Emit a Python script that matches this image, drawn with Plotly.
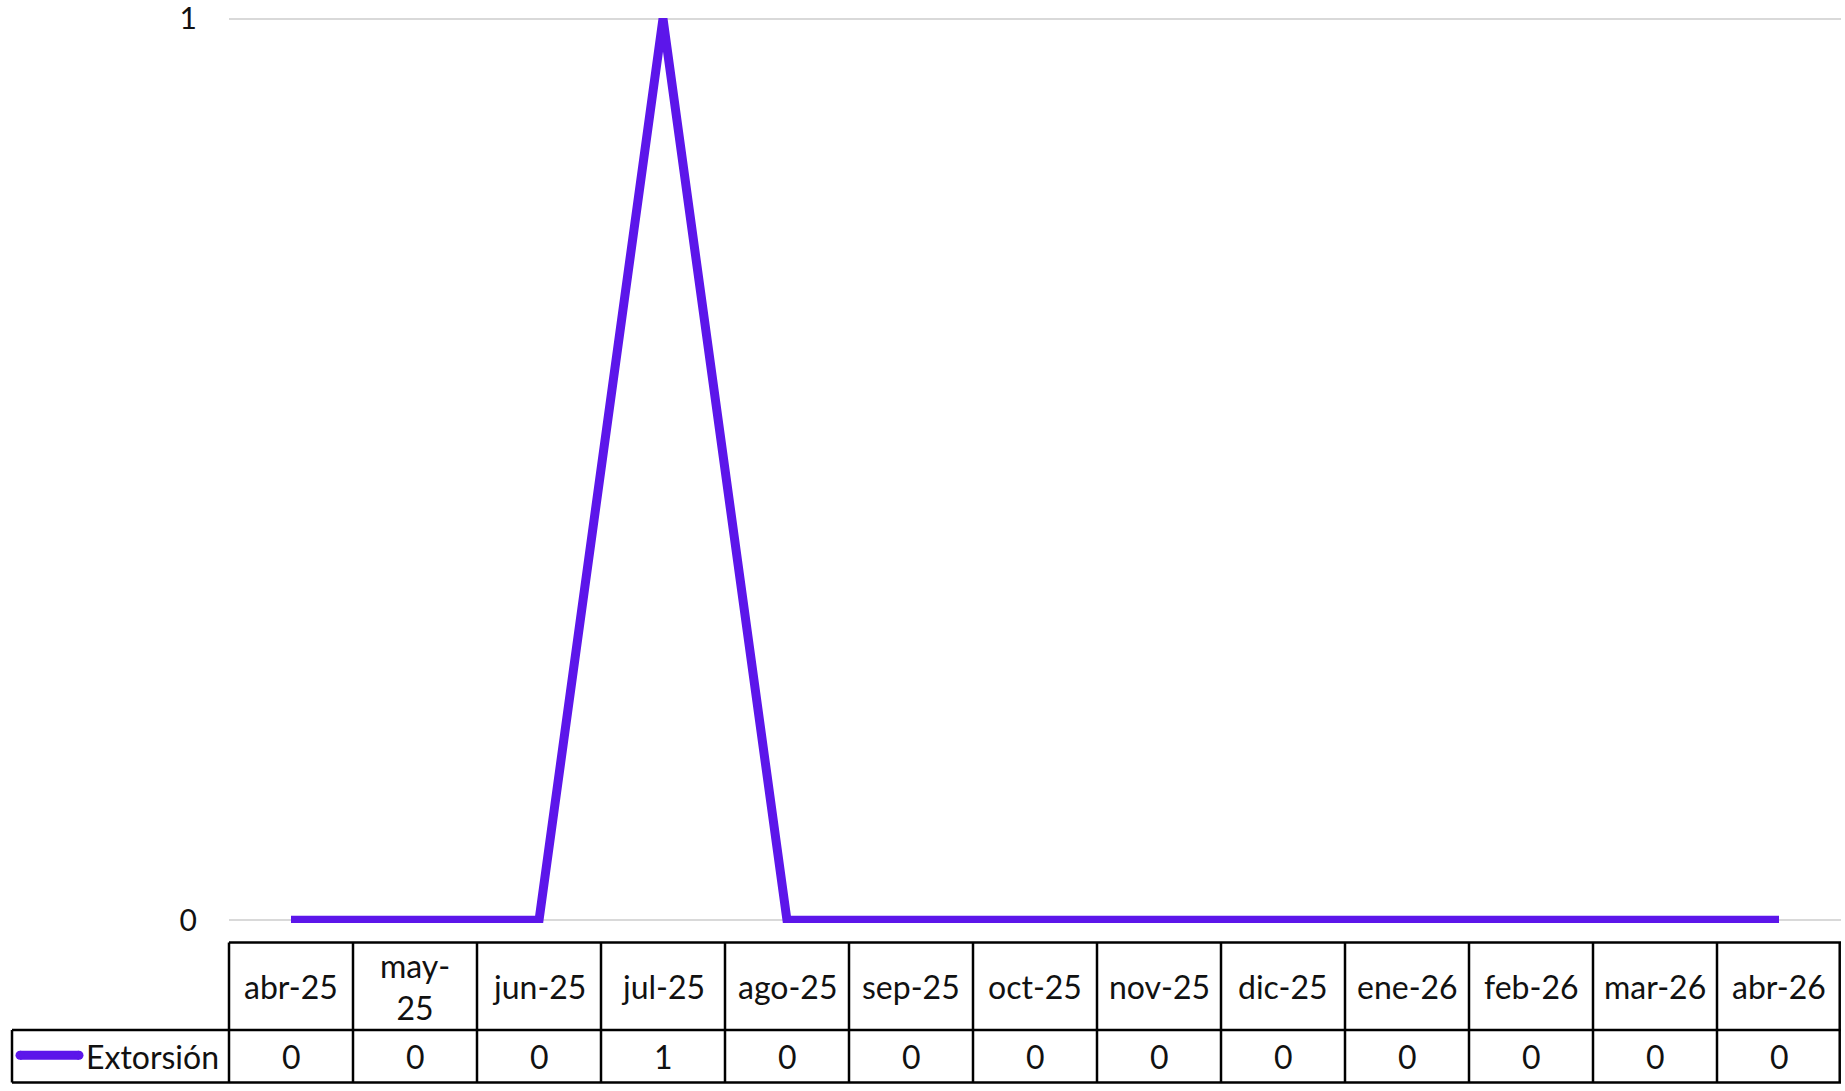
import plotly.graph_objects as go

# ---- data ----
months = ["abr-25", "may-25", "jun-25", "jul-25", "ago-25", "sep-25", "oct-25",
          "nov-25", "dic-25", "ene-26", "feb-26", "mar-26", "abr-26"]
header_labels = ["abr-25", "may-<br>25", "jun-25", "jul-25", "ago-25", "sep-25", "oct-25",
                 "nov-25", "dic-25", "ene-26", "feb-26", "mar-26", "abr-26"]
extorsion = [0, 0, 0, 1, 0, 0, 0, 0, 0, 0, 0, 0, 0]
series_name = "Extorsión"
y_ticks = [0, 1]

# ---- layout constants (pixels) ----
W, H = 1845, 1091
EPS = 0.003
GRID_TOP, GRID_BOT = 19, 920
G = GRID_BOT - GRID_TOP
T = round(GRID_TOP - EPS * G)
Y0 = round(GRID_BOT + EPS * G)  # pixel y of plot bottom
L, R = 229, 4
B = H - Y0
PW, PH = W - L - R, Y0 - T


def py(p):
    return (Y0 - p) / PH


def px(p):
    return (p - L) / PW


LINE_COLOR = "#5C16EA"
FONT = "Lato"
TXT = "#111111"
BORDER = "#000000"
BW = 2.5
LW = 9

fig = go.Figure()
fig.add_trace(go.Scatter(
    x=months, y=extorsion, mode="lines", name=series_name,
    line=dict(color=LINE_COLOR, width=LW), showlegend=False, hoverinfo="x+y"))

shapes = []
annotations = []

tbl_top, row_div, tbl_bot = 942.5, 1030, 1082.5
n = len(months)

shapes.append(dict(type="line", xref="x", yref="paper", x0=-0.5, x1=n - 0.5,
                   y0=py(tbl_top), y1=py(tbl_top), line=dict(color=BORDER, width=BW)))
shapes.append(dict(type="line", xref="paper", yref="paper", x0=px(12), x1=1.0,
                   y0=py(row_div), y1=py(row_div), line=dict(color=BORDER, width=BW)))
shapes.append(dict(type="line", xref="paper", yref="paper", x0=px(12), x1=1.0,
                   y0=py(tbl_bot), y1=py(tbl_bot), line=dict(color=BORDER, width=BW)))
shapes.append(dict(type="line", xref="paper", yref="paper", x0=px(12), x1=px(12),
                   y0=py(row_div), y1=py(tbl_bot), line=dict(color=BORDER, width=BW)))
for i in range(n + 1):
    xb = i - 0.5
    if i == 0:
        shapes.append(dict(type="line", xref="paper", yref="paper", x0=0, x1=0,
                           y0=py(tbl_top), y1=py(tbl_bot), line=dict(color=BORDER, width=BW)))
    elif i == n:
        shapes.append(dict(type="line", xref="paper", yref="paper", x0=1.0 - 0.0008, x1=1.0 - 0.0008,
                           y0=py(tbl_top), y1=py(tbl_bot), line=dict(color=BORDER, width=BW)))
    else:
        shapes.append(dict(type="line", xref="x", yref="paper", x0=xb, x1=xb,
                           y0=py(tbl_top), y1=py(tbl_bot), line=dict(color=BORDER, width=BW)))

for m, lab, v in zip(months, header_labels, extorsion):
    annotations.append(dict(x=m, xref="x", y=py((tbl_top + row_div) / 2), yref="paper",
                            text=lab, showarrow=False, xanchor="center", yanchor="middle",
                            font=dict(family=FONT, size=32, color=TXT)))
    annotations.append(dict(x=m, xref="x", y=py((row_div + tbl_bot) / 2), yref="paper",
                            text=str(v), showarrow=False, xanchor="center", yanchor="middle",
                            font=dict(family=FONT, size=32, color=TXT)))

# legend key in table
ly = py((row_div + tbl_bot) / 2 - 1)
shapes.append(dict(type="line", xref="paper", yref="paper", x0=px(20), x1=px(79),
                   y0=ly, y1=ly, line=dict(color=LINE_COLOR, width=LW)))
for cx in (px(20), px(79)):
    shapes.append(dict(type="circle", xref="paper", yref="paper", xsizemode="pixel",
                       ysizemode="pixel", xanchor=cx, yanchor=ly, x0=-LW / 2, x1=LW / 2,
                       y0=-LW / 2, y1=LW / 2, fillcolor=LINE_COLOR, line=dict(width=0)))
annotations.append(dict(x=px(221), xref="paper", y=py((row_div + tbl_bot) / 2), yref="paper",
                        text=series_name, showarrow=False, xanchor="right", yanchor="middle",
                        font=dict(family=FONT, size=32, color=TXT)))

fig.update_layout(
    width=W, height=H,
    margin=dict(l=L, r=R, t=T, b=B, pad=0, autoexpand=False),
    paper_bgcolor="white", plot_bgcolor="white",
    shapes=shapes, annotations=annotations,
    showlegend=False,
    xaxis=dict(type="category", range=[-0.5, n - 0.5], showticklabels=False,
               showgrid=False, zeroline=False, showline=False, fixedrange=True,
               automargin=False),
    yaxis=dict(range=[-EPS, 1 + EPS], tickvals=y_ticks, ticktext=[str(t) for t in y_ticks],
               showgrid=True, gridcolor="#D9D9D9", gridwidth=2, zeroline=False,
               showline=False, ticks="outside", ticklen=25, tickcolor="rgba(0,0,0,0)",
               tickfont=dict(family=FONT, size=30, color=TXT), fixedrange=True,
               automargin=False, ticklabeloverflow="allow"),
)

fig.write_html("out.html", config={"displayModeBar": False},
               post_script="document.body.style.margin='0';document.body.style.overflow='hidden';")
